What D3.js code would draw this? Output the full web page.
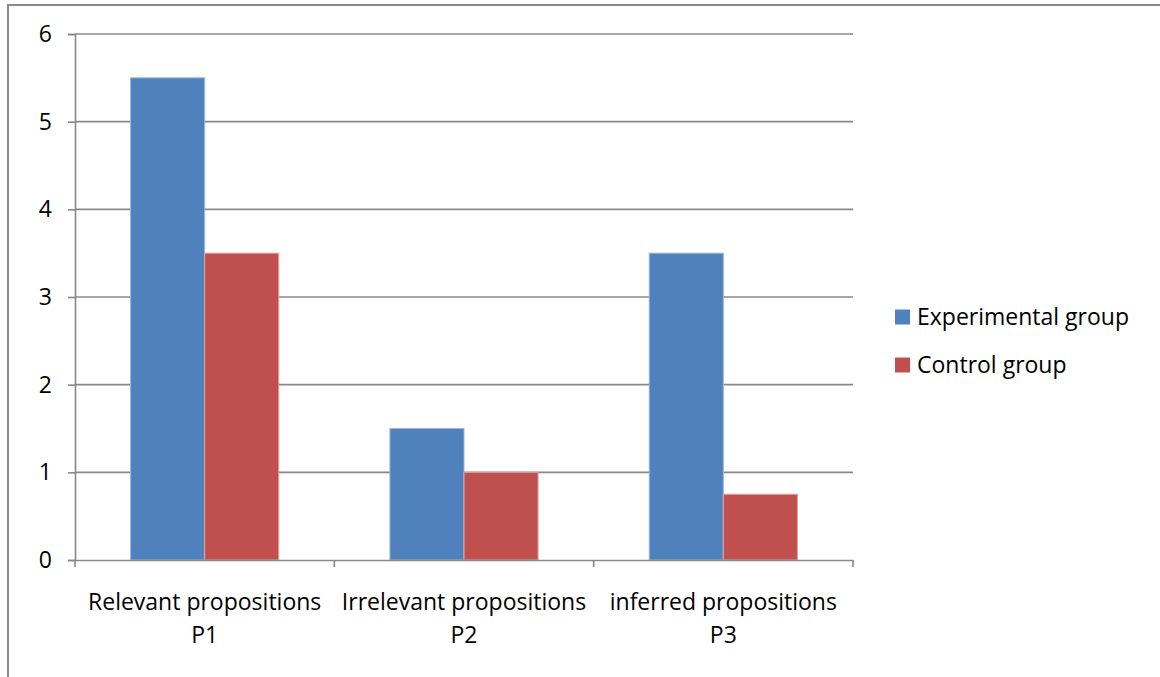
<!DOCTYPE html>
<html>
<head>
<meta charset="utf-8">
<script src="https://cdn.jsdelivr.net/npm/d3@7"></script>
<style>
  html, body { margin: 0; padding: 0; background: #fff; }
  svg { display: block; }
  text { font-family: "Open Sans", "Liberation Sans", Arial, sans-serif; fill: #000; }
</style>
</head>
<body>
<svg id="chart" width="1160" height="677"></svg>
<script>
// Category labels (two lines each) and series values
const categories = ["Relevant propositions\nP1", "Irrelevant propositions\nP2", "inferred propositions\nP3"];
const experimental = [5.5, 1.5, 3.5];
const control = [3.5, 1.0, 0.75];
const seriesNames = ["Experimental group", "Control group"];
const seriesColors = ["#4F81BD", "#C0504D"];
const yTicks = [0, 1, 2, 3, 4, 5, 6];

const svg = d3.select("#chart");
const W = 1160, H = 677;
const plot = { left: 75, right: 853, top: 34, bottom: 560 };
const fontSize = 23;
const fontFamily = '"Open Sans", "Liberation Sans", Arial, sans-serif';

// Outer chart frame (runs past the right and bottom edges)
svg.append("rect")
  .attr("x", 8).attr("y", 5)
  .attr("width", W + 10).attr("height", H + 10)
  .attr("fill", "none").attr("stroke", "#8a8a8a").attr("stroke-width", 2);

const x0 = d3.scaleBand().domain(categories).range([plot.left, plot.right]).paddingInner(0).paddingOuter(0);
const y = d3.scaleLinear().domain([0, 6]).range([plot.bottom, plot.top]);

// Horizontal gridlines
svg.append("g").selectAll("line").data(yTicks.filter(d => d > 0)).join("line")
  .attr("x1", plot.left).attr("x2", plot.right)
  .attr("y1", d => y(d)).attr("y2", d => y(d))
  .attr("stroke", "#888").attr("stroke-width", 1.6);

// Bars: within each category, two bars with a gap of 1.5 bar widths
const series = [experimental, control];
const bw = x0.bandwidth() / 3.5;
series.forEach((vals, s) => {
  svg.append("g").selectAll("rect").data(vals).join("rect")
    .attr("x", (d, i) => x0(categories[i]) + 0.75 * bw + s * bw)
    .attr("y", d => y(d))
    .attr("width", bw)
    .attr("height", d => y(0) - y(d))
    .attr("fill", seriesColors[s])
    .attr("stroke", s === 0 ? "#9bb8dd" : "#e0a5a3")
    .attr("stroke-width", 1);
});

// Y axis
const yAxis = d3.axisLeft(y).tickValues(yTicks).tickSize(7).tickPadding(16).tickFormat(d3.format("d"));
const gy = svg.append("g").attr("transform", `translate(${plot.left},0)`).call(yAxis);
gy.select(".domain").attr("stroke", "#888").attr("stroke-width", 1.6);
gy.selectAll(".tick line").attr("stroke", "#888").attr("stroke-width", 1.6);
gy.selectAll(".tick text").style("font-size", fontSize + "px")
  .style("font-family", fontFamily).attr("fill", "#000");

// X axis line and boundary ticks
const xAxis = d3.axisBottom(x0).tickSize(0).tickFormat("");
const gx = svg.append("g").attr("transform", `translate(0,${plot.bottom})`).call(xAxis);
gx.select(".domain").attr("stroke", "#888").attr("stroke-width", 1.6);
gx.selectAll(".tick").remove();
const bounds = categories.map(c => x0(c)).concat([x0(categories[categories.length - 1]) + x0.bandwidth()]);
gx.selectAll("line.bound").data(bounds).join("line").attr("class", "bound")
  .attr("x1", d => d).attr("x2", d => d).attr("y1", 0).attr("y2", 7)
  .attr("stroke", "#888").attr("stroke-width", 1.6);

// Category labels
const lab = svg.append("g").selectAll("text").data(categories).join("text")
  .attr("text-anchor", "middle")
  .style("font-size", fontSize + "px");
lab.each(function (d) {
  const t = d3.select(this);
  const cx = x0(d) + x0.bandwidth() / 2;
  d.split("\n").forEach((line, k) => {
    t.append("tspan").attr("x", cx).attr("y", 610 + k * 33).text(line);
  });
});

// Legend
const leg = svg.append("g");
seriesNames.forEach((name, i) => {
  const yy = 317 + i * 48;
  leg.append("rect").attr("x", 895).attr("y", yy - 7.5).attr("width", 15).attr("height", 15)
    .attr("fill", seriesColors[i]);
  leg.append("text").attr("x", 917).attr("y", yy).attr("dy", "0.35em")
    .style("font-size", fontSize + "px").text(name);
});
</script>
</body>
</html>
